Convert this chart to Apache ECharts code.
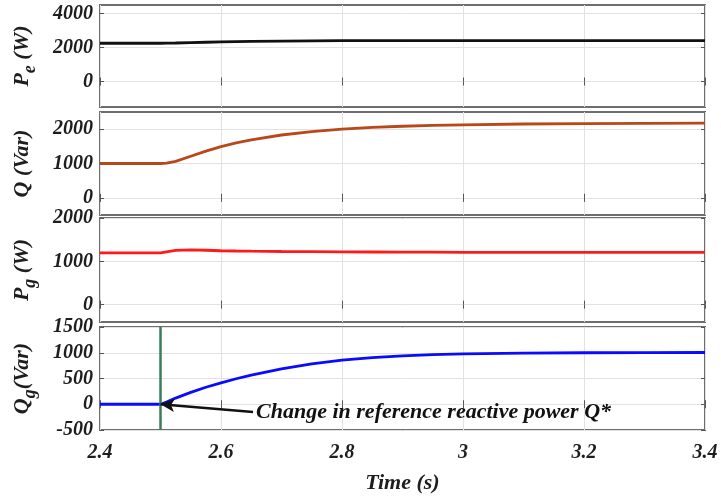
<!DOCTYPE html>
<html><head><meta charset="utf-8">
<script src="https://cdn.jsdelivr.net/npm/echarts@6/dist/echarts.min.js"></script>
<style>html,body{margin:0;padding:0;background:#fff}#c{width:721px;height:499px}</style>
</head><body><div id="c"></div>
<script>
// ---- data ----
const time = [2.4, 2.45, 2.5, 2.51, 2.525, 2.55, 2.575, 2.6, 2.625, 2.65, 2.7, 2.75, 2.8, 2.85, 2.9, 2.95, 3.0, 3.1, 3.2, 3.3, 3.4];
const pe   = [2250, 2250, 2250, 2255, 2265, 2290, 2310, 2330, 2345, 2355, 2375, 2390, 2400, 2405, 2408, 2410, 2410, 2410, 2410, 2410, 2410];
const q    = [1000, 1000, 1000, 1010, 1060, 1210, 1360, 1490, 1600, 1690, 1830, 1930, 2000, 2050, 2085, 2108, 2125, 2150, 2163, 2170, 2175];
const pg   = [1195, 1195, 1195, 1220, 1252, 1264, 1256, 1244, 1238, 1234, 1227, 1222, 1218, 1215, 1213, 1211, 1209, 1207, 1206, 1205, 1205];
const qg   = [0, 0, 0, 45, 120, 230, 330, 415, 495, 565, 685, 785, 858, 905, 940, 962, 978, 993, 1000, 1003, 1005];

const xTickValues = [2.4, 2.6, 2.8, 3.0, 3.2, 3.4];
const peTicks = [0, 2000, 4000];
const qTicks  = [0, 1000, 2000];
const pgTicks = [0, 1000, 2000];
const qgTicks = [-500, 0, 500, 1000, 1500];
const yRanges = [[-1500, 4500], [-500, 2500], [-400, 2000], [-500, 1500]];
const changeTime = 2.5;
const arrowStart = [2.653, -150];
const arrowEnd = [2.5, 0];
const annotationText = 'Change in reference reactive power Q*';
const xName = 'Time (s)';

// ---- styling / layout ----
const FONT = "'Liberation Serif', 'Times New Roman', serif";
const TXT = '#1e1e1e';
const grids = [
  {top: 5, height: 102}, {top: 112, height: 103}, {top: 218, height: 104}, {top: 327, height: 103}
];
const seriesData = [pe, q, pg, qg];
const colors = ['#111111', '#b8481a', '#ff1a1a', '#0a0aff'];
const yTicks = [peTicks, qTicks, pgTicks, qgTicks];
const yNames = ['{m|P}{s|e}{m| (W)}', '{m|Q (Var)}', '{m|P}{s|g}{m| (W)}', '{m|Q}{s|g}{m|(Var)}'];
const rich = {
  m: {fontSize: 22, fontFamily: FONT, fontWeight: 'bold', fontStyle: 'italic', color: TXT, lineHeight: 34},
  s: {fontSize: 18, fontFamily: FONT, fontWeight: 'bold', fontStyle: 'italic', color: TXT, lineHeight: 18, verticalAlign: 'bottom'}
};

const grid = [], xAxis = [], yAxis = [], series = [];
for (let i = 0; i < 4; i++) {
  grid.push({left: 100, right: 16, top: grids[i].top, height: grids[i].height,
    show: true, borderColor: '#6e6e6e', borderWidth: 2, backgroundColor: '#fff'});
  const last = i === 3;
  const xBase = {
    type: 'value', gridIndex: i, min: 2.4, max: 3.4, interval: 0.2,
    axisLine: {show: false},
    axisTick: {show: true, inside: true, length: 4, lineStyle: {color: '#555', width: 1}},
  };
  xAxis.push(Object.assign({}, xBase, {
    position: 'bottom',
    splitLine: {show: true, lineStyle: {color: '#e2e2e2', width: 1}},
    axisLabel: {show: last, margin: 13, fontSize: 20, fontFamily: FONT, fontWeight: 'bold', fontStyle: 'italic', color: TXT,
      formatter: v => String(+v.toFixed(1))},
    name: last ? xName : '', nameLocation: 'middle', nameGap: 42,
    nameTextStyle: {fontSize: 22, fontFamily: FONT, fontWeight: 'bold', fontStyle: 'italic', color: TXT}
  }));
  xAxis.push(Object.assign({}, xBase, {position: 'top', splitLine: {show: false}, axisLabel: {show: false}}));
  const yBase = {
    type: 'value', gridIndex: i, min: yRanges[i][0], max: yRanges[i][1],
    axisLine: {show: false},
    axisTick: {show: true, inside: true, length: 4, lineStyle: {color: '#555', width: 1}, customValues: yTicks[i]},
  };
  yAxis.push(Object.assign({}, yBase, {
    position: 'left',
    splitLine: {show: true, lineStyle: {color: '#e2e2e2', width: 1}},
    axisLabel: {show: true, margin: 7, fontSize: 20, fontFamily: FONT, fontWeight: 'bold', fontStyle: 'italic', color: TXT,
      customValues: yTicks[i], formatter: v => String(v)},
    name: yNames[i], nameLocation: 'middle', nameRotate: 90, nameGap: 61,
    nameTextStyle: {rich: rich}
  }));
  yAxis.push(Object.assign({}, yBase, {position: 'right', splitLine: {show: false}, axisLabel: {show: false}}));

  const s = {
    type: 'line', xAxisIndex: 2 * i, yAxisIndex: 2 * i,
    data: time.map((t, k) => [t, seriesData[i][k]]),
    showSymbol: false, symbol: 'none',
    lineStyle: {color: colors[i], width: 2.8}, z: 3
  };
  if (last) {
    s.markLine = {
      silent: true, animation: false, symbol: ['none', 'none'],
      data: [
        {xAxis: changeTime, symbol: 'none', lineStyle: {color: '#3b7d5a', width: 2.5, type: 'solid'}, label: {show: false}},
        [
          {coord: arrowStart, symbol: 'none',
           lineStyle: {color: '#111', width: 2.4, type: 'solid'},
           label: {show: true, position: 'start', distance: 3, formatter: annotationText,
             fontSize: 22, fontFamily: FONT, fontWeight: 'bold', fontStyle: 'italic', color: '#111'}},
          {coord: arrowEnd, symbol: 'arrow', symbolSize: [10, 14]}
        ]
      ]
    };
  }
  series.push(s);
}

const chart = echarts.init(document.getElementById('c'), null, {renderer: 'canvas'});
chart.setOption({animation: false, backgroundColor: '#fff', grid, xAxis, yAxis, series});
</script>
</body></html>
